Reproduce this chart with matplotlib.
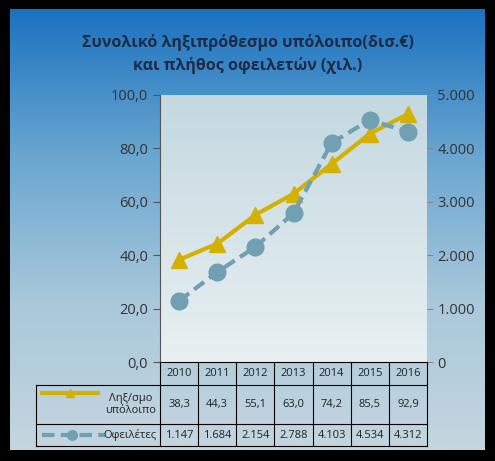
import matplotlib
matplotlib.use("Agg")
import matplotlib.pyplot as plt
import numpy as np
from matplotlib.colors import LinearSegmentedColormap

plt.rcParams['font.family'] = ['Open Sans', 'DejaVu Sans']

years = ['2010', '2011', '2012', '2013', '2014', '2015', '2016']
balance = [38.3, 44.3, 55.1, 63.0, 74.2, 85.5, 92.9]
debtors = [1147, 1684, 2154, 2788, 4103, 4534, 4312]
balance_lbl = ['38,3', '44,3', '55,1', '63,0', '74,2', '85,5', '92,9']
debtors_lbl = ['1.147', '1.684', '2.154', '2.788', '4.103', '4.534', '4.312']
left_ticks = ['0,0', '20,0', '40,0', '60,0', '80,0', '100,0']
right_ticks = ['0', '1.000', '2.000', '3.000', '4.000', '5.000']
title = 'Συνολικό ληξιπρόθεσμο υπόλοιπο(δισ.€)\nκαι πλήθος οφειλετών (χιλ.)'
s1, s2 = 'Ληξ/σμο\nυπόλοιπο', 'Οφειλέτες'

W, H = 495, 461
fig = plt.figure(figsize=(W/100, H/100), dpi=100, facecolor='black')

bg = fig.add_axes([0, 0, 1, 1], zorder=-2)
bg.set_facecolor('black')
cm = LinearSegmentedColormap.from_list('g', ['#1a72c0', '#6aa6d0', '#a9c8da', '#c4d6e0'])
bg.imshow(np.linspace(0, 1, 256)[:, None], cmap=cm, extent=[10, 485, 450, 10], aspect='auto', zorder=0)
bg.set_xlim(0, W); bg.set_ylim(H, 0); bg.axis('off')

YC, YG = '#d4b000', '#70a0b2'
C = '#1f2a44'
fig.text(0.5, 1-54/H, title, ha='center', va='center', fontsize=11.5, fontweight='bold', color=C, linespacing=1.5)

x0, x1, yt, yb = 160, 427, 95, 362
ax = fig.add_axes([x0/W, 1-yb/H, (x1-x0)/W, (yb-yt)/H])
pg = LinearSegmentedColormap.from_list('p', ['#c4d8e0', '#e8f0f2'])
ax.imshow(np.linspace(0, 1, 256)[:, None], cmap=pg, extent=[-0.5, 6.5, 0, 100], aspect='auto', zorder=0)
x = np.arange(len(years))
ax.set_xlim(-0.5, 6.5); ax.set_ylim(0, 100)
ax.plot(x, balance, color=YC, lw=3, marker='^', ms=11, zorder=3)
ax.set_yticks(np.arange(0, 101, 20)); ax.set_yticklabels(left_ticks)
ax.set_xticks([])
for s in ['top', 'right', 'bottom']:
    ax.spines[s].set_visible(False)
ax.spines['left'].set_color('#555555')
ax.tick_params(axis='y', colors='#555555', labelcolor='#333333', labelsize=10.5, length=5)
ax2 = ax.twinx()
ax2.set_ylim(0, 5000)
ax2.plot(x, debtors, color=YG, lw=3, ls=(0, (3, 1.5)), marker='o', ms=12, zorder=3)
ax2.set_yticks(np.arange(0, 5001, 1000)); ax2.set_yticklabels(right_ticks)
for s in ax2.spines.values():
    s.set_visible(False)
ax2.tick_params(axis='y', colors='#888888', labelcolor='#333333', labelsize=10.5, length=4)

tb = fig.add_axes([0, 0, 1, 1], zorder=5)
tb.set_xlim(0, W); tb.set_ylim(H, 0); tb.axis('off')
lc = 'black'
rows = [362, 385, 424, 446]
cw = (x1 - x0) / 7
for r in rows[1:]:
    tb.plot([36, x1], [r, r], color=lc, lw=0.8)
tb.plot([x0, x1], [rows[0], rows[0]], color=lc, lw=0.8)
tb.plot([36, 36], [rows[1], rows[3]], color=lc, lw=0.8)
for i in range(8):
    tb.plot([x0+i*cw]*2, [rows[0], rows[3]], color=lc, lw=0.8)
for i in range(7):
    cx = x0 + (i+0.5)*cw
    tb.text(cx, (rows[0]+rows[1])/2, years[i], ha='center', va='center', fontsize=8, color='#222222')
    tb.text(cx, (rows[1]+rows[2])/2, balance_lbl[i], ha='center', va='center', fontsize=8, color='#222222')
    tb.text(cx, (rows[2]+rows[3])/2, debtors_lbl[i], ha='center', va='center', fontsize=8, color='#222222')
tb.text(156, (rows[1]+rows[2])/2, s1, ha='right', va='center', fontsize=8, color='#222222', multialignment='center')
tb.text(156, (rows[2]+rows[3])/2, s2, ha='right', va='center', fontsize=8, color='#222222')
tb.plot([42, 98], [393, 393], color=YC, lw=3)
tb.plot([70], [393], marker='^', color=YC, ms=6)
tb.plot([42, 105], [435, 435], color=YG, lw=3, ls=(0, (3, 1.5)))
tb.plot([72], [435], marker='o', color=YG, ms=7)

fig.savefig('out.png', dpi=100, facecolor='black')
